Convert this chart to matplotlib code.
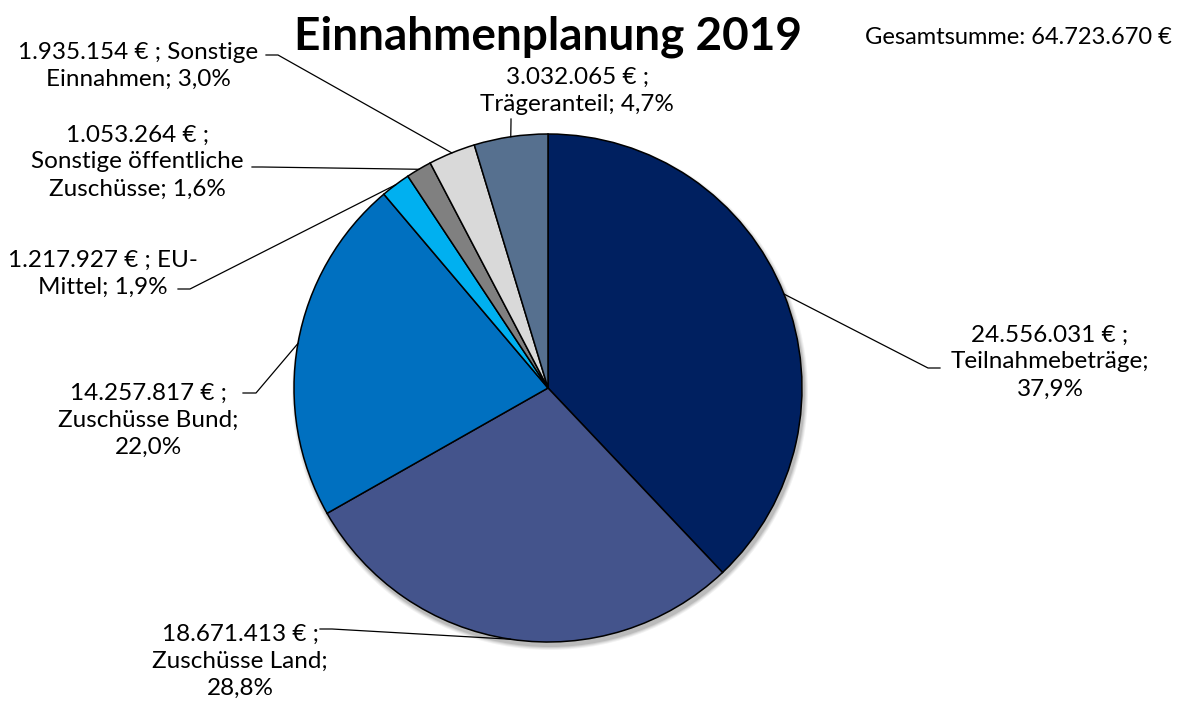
import numpy as np
import matplotlib.pyplot as plt
from matplotlib.patches import Circle

plt.rcParams['font.family'] = ['Lato', 'DejaVu Sans']

categories = ['Teilnahmebeträge', 'Zuschüsse Land', 'Zuschüsse Bund', 'EU-Mittel',
              'Sonstige öffentliche Zuschüsse', 'Sonstige Einnahmen', 'Trägeranteil']
values = [24556031, 18671413, 14257817, 1217927, 1053264, 1935154, 3032065]
total_label = '64.723.670 €'
colors = ['#002060', '#44548c', '#0070c0', '#00b0f0', '#808080', '#d9d9d9', '#56708f']

# label text, split where the original breaks lines
label_text = [
    '24.556.031 € ;\nTeilnahmebeträge;\n37,9%',
    '18.671.413 € ;\nZuschüsse Land;\n28,8%',
    '14.257.817 € ;\nZuschüsse Bund;\n22,0%',
    '1.217.927 € ; EU-\nMittel; 1,9%',
    '1.053.264 € ;\nSonstige öffentliche\nZuschüsse; 1,6%',
    '1.935.154 € ; Sonstige\nEinnahmen; 3,0%',
    '3.032.065 € ;\nTrägeranteil; 4,7%',
]

# layout (pixel coords, y down): text centre, leader knee start/end
label_pos = [(1050, 362), (240, 661), (148, 420), (103, 274), (137, 162), (138, 66), (577, 91)]
knees = [[(940, 368), (928, 368)],
         [(320, 629), (332, 629)],
         [(243, 393), (256, 393)],
         [(178, 289), (190, 289)],
         [(252, 167), (262, 167)],
         [(266, 55), (278, 55)],
         [(511, 119), (511, 122)]]

W, H = 1177, 703
cx, cy, R = 548, 388, 254

fig = plt.figure(figsize=(W / 100, H / 100), dpi=100)
ax = fig.add_axes([0, 0, 1, 1])

# soft shadow
for i, a in enumerate([0.05, 0.06, 0.08, 0.10]):
    ax.add_patch(Circle((cx + 2, cy + 4), R + 4 - i, color='black', alpha=a, lw=0, zorder=0))

wedges, _ = ax.pie(values, colors=colors, center=(cx, cy), radius=R,
                   startangle=-90, counterclock=True, frame=True,
                   wedgeprops=dict(edgecolor='black', linewidth=1.1))
ax.set_xlim(0, W)
ax.set_ylim(H, 0)
ax.set_aspect('equal')
ax.axis('off')

for w, txt, pos, kn in zip(wedges, label_text, label_pos, knees):
    th = np.deg2rad((w.theta1 + w.theta2) / 2)
    px, py = cx + R * np.cos(th), cy + R * np.sin(th)
    ax.plot([kn[0][0], kn[1][0], px], [kn[0][1], kn[1][1], py],
            color='black', lw=0.9, zorder=5)
    ax.text(pos[0], pos[1], txt, ha='center', va='center', multialignment='center',
            fontsize=17.5, linespacing=1.36, color='black')

ax.text(548, 37, 'Einnahmenplanung 2019', ha='center', va='center',
        fontsize=33, fontweight='bold')
ax.text(1172, 38, 'Gesamtsumme: ' + total_label, ha='right', va='center', fontsize=17)

fig.savefig('out.png', dpi=100)
